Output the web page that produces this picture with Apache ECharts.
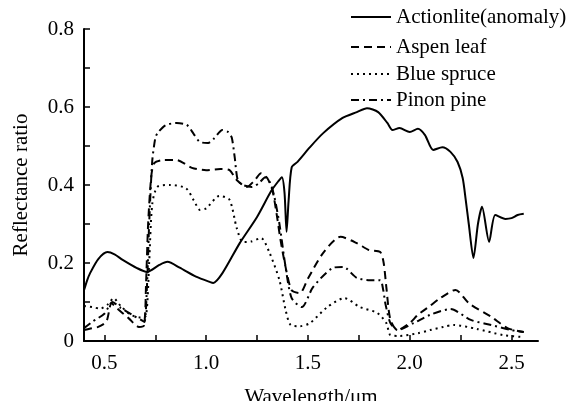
<!DOCTYPE html>
<html><head><meta charset="utf-8">
<script src="https://cdn.jsdelivr.net/npm/echarts@6/dist/echarts.min.js"></script>
<style>html,body{margin:0;padding:0;background:#fff}#c{width:569px;height:401px}</style>
</head><body><div id="c"></div>
<script>
var seriesNames = ['Actionlite(anomaly)', 'Aspen leaf', 'Blue spruce', 'Pinon pine'];
var xTickLabels = [0.5, 1.0, 1.5, 2.0, 2.5];
var xMinorTicks = [0.5, 0.75, 1.0, 1.25, 1.5, 1.75, 2.0, 2.25, 2.5];
var yTickLabels = [0, 0.2, 0.4, 0.6, 0.8];

var actinoliteX = [0.40,0.415,0.43,0.47,0.515,0.55,0.59,0.66,0.71,0.77,0.81,0.87,0.95,1.02,1.035,1.08,1.165,1.25,1.32,1.355,1.372,1.385,1.395,1.405,1.42,1.45,1.51,1.575,1.67,1.74,1.79,1.845,1.89,1.915,1.95,2.0,2.04,2.075,2.115,2.16,2.2,2.235,2.26,2.275,2.29,2.313,2.335,2.355,2.39,2.42,2.47,2.5,2.53,2.56];
var actinoliteY = [0.13,0.155,0.174,0.21,0.228,0.222,0.208,0.187,0.177,0.195,0.203,0.188,0.165,0.151,0.149,0.174,0.251,0.318,0.385,0.41,0.42,0.38,0.28,0.36,0.445,0.46,0.497,0.533,0.572,0.587,0.597,0.587,0.559,0.541,0.546,0.536,0.544,0.528,0.49,0.497,0.485,0.459,0.418,0.362,0.3,0.213,0.3,0.344,0.254,0.323,0.313,0.315,0.323,0.326];

var aspenX = [0.40,0.44,0.47,0.51,0.535,0.56,0.62,0.67,0.695,0.705,0.715,0.73,0.745,0.79,0.855,0.93,1.0,1.07,1.115,1.15,1.2,1.235,1.27,1.3,1.325,1.345,1.365,1.39,1.42,1.46,1.5,1.575,1.66,1.74,1.8,1.855,1.872,1.885,1.905,1.94,2.0,2.04,2.1,2.15,2.225,2.29,2.4,2.48,2.56];
var aspenY = [0.028,0.033,0.036,0.05,0.097,0.085,0.058,0.036,0.04,0.15,0.3,0.42,0.456,0.464,0.464,0.444,0.438,0.441,0.438,0.413,0.395,0.41,0.43,0.418,0.387,0.33,0.26,0.19,0.13,0.123,0.16,0.226,0.267,0.251,0.233,0.228,0.2,0.138,0.054,0.028,0.046,0.067,0.09,0.11,0.131,0.097,0.062,0.033,0.023];

var spruceX = [0.40,0.44,0.48,0.52,0.545,0.58,0.63,0.68,0.705,0.72,0.735,0.76,0.82,0.9,0.94,0.97,1.0,1.065,1.115,1.15,1.18,1.22,1.27,1.31,1.36,1.39,1.415,1.46,1.51,1.595,1.68,1.755,1.84,1.885,1.905,1.95,2.04,2.1,2.165,2.215,2.33,2.46,2.56];
var spruceY = [0.09,0.087,0.083,0.095,0.11,0.09,0.067,0.06,0.065,0.2,0.35,0.395,0.4,0.392,0.36,0.336,0.34,0.372,0.362,0.29,0.254,0.255,0.264,0.228,0.156,0.08,0.041,0.038,0.046,0.087,0.11,0.087,0.072,0.046,0.015,0.013,0.02,0.028,0.036,0.041,0.031,0.015,0.01];

var pinonX = [0.40,0.44,0.5,0.54,0.58,0.64,0.68,0.697,0.71,0.72,0.735,0.75,0.761,0.8,0.855,0.905,0.94,0.97,1.01,1.04,1.08,1.11,1.126,1.14,1.155,1.18,1.225,1.26,1.29,1.315,1.335,1.36,1.39,1.42,1.47,1.525,1.62,1.672,1.74,1.805,1.855,1.87,1.88,1.905,1.94,2.02,2.1,2.2,2.3,2.4,2.5,2.56];
var pinonY = [0.033,0.049,0.07,0.1,0.085,0.066,0.054,0.049,0.15,0.3,0.46,0.52,0.533,0.553,0.559,0.554,0.53,0.51,0.508,0.52,0.541,0.535,0.521,0.472,0.413,0.4,0.395,0.405,0.42,0.405,0.37,0.30,0.19,0.11,0.087,0.138,0.187,0.19,0.162,0.156,0.156,0.13,0.097,0.046,0.028,0.046,0.067,0.082,0.054,0.041,0.028,0.023];

function pairs(xs, ys) { return xs.map(function (x, i) { return [x, ys[i]]; }); }

var font = '"Liberation Serif", "Times New Roman", serif';
var styles = [
  { type: 'solid', width: 2 },
  { type: [8, 5], width: 2 },
  { type: [2, 4], width: 2 },
  { type: [8, 4, 2, 4], width: 2 }
];
var dataSets = [pairs(actinoliteX, actinoliteY), pairs(aspenX, aspenY), pairs(spruceX, spruceY), pairs(pinonX, pinonY)];
var legendTops = [6, 36, 63, 89];

var chart = echarts.init(document.getElementById('c'), null, { renderer: 'canvas' });
chart.setOption({
  animation: false,
  backgroundColor: '#fff',
  grid: { left: 84, right: 31, top: 29, bottom: 60, outerBoundsMode: 'none', containLabel: false },
  legend: seriesNames.map(function (n, i) {
    return {
      data: [n], left: 350, top: legendTops[i], itemWidth: 40, itemHeight: 14, itemGap: 0,
      padding: 0,
      itemStyle: { opacity: 0 },
      textStyle: { fontFamily: font, fontSize: 21, color: '#000', lineHeight: 22 }
    };
  }),
  xAxis: {
    type: 'value', min: 0.4, max: 2.63,
    name: 'Wavelength/\u03bcm', nameLocation: 'middle', nameGap: 46,
    nameTextStyle: { fontFamily: font, fontSize: 21, color: '#000' },
    axisLine: { onZero: false, lineStyle: { color: '#000', width: 2 } },
    axisTick: { inside: true, length: 6, customValues: xMinorTicks, lineStyle: { color: '#000', width: 1.5 } },
    axisLabel: { customValues: xTickLabels, margin: 12, fontFamily: font, fontSize: 21, color: '#000',
      formatter: function (v) { return v.toFixed(1); } },
    splitLine: { show: false }
  },
  yAxis: {
    type: 'value', min: 0, max: 0.8, interval: 0.1,
    name: 'Reflectance ratio', nameLocation: 'middle', nameGap: 52,
    nameTextStyle: { fontFamily: font, fontSize: 21, color: '#000' },
    axisLine: { show: true, lineStyle: { color: '#000', width: 2 } },
    axisTick: { show: true, inside: true, length: 6, lineStyle: { color: '#000', width: 1.5 } },
    axisLabel: { customValues: yTickLabels, margin: 10, fontFamily: font, fontSize: 21, color: '#000',
      formatter: function (v) { return v === 0 ? '0' : v.toFixed(1); } },
    splitLine: { show: false }
  },
  series: seriesNames.map(function (n, i) {
    return {
      name: n, type: 'line', data: dataSets[i], symbol: 'none', showSymbol: false,
      smooth: 0.25,
      lineStyle: { color: '#000', width: styles[i].width, type: styles[i].type },
      itemStyle: { color: '#000' }
    };
  })
});
</script></body></html>
